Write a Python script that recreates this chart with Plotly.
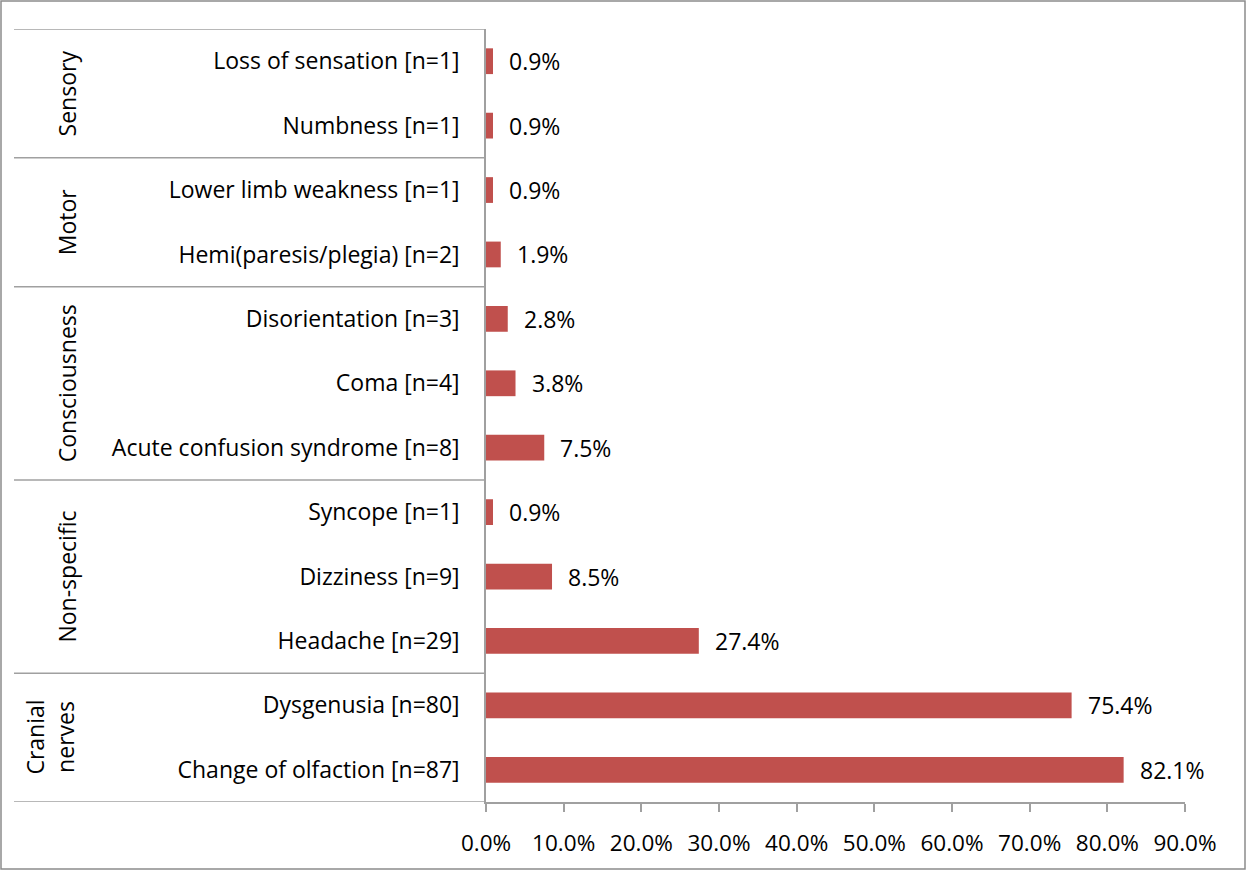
import plotly.graph_objects as go

# Data (bottom to top)
categories = [
    "Change of olfaction [n=87]",
    "Dysgenusia [n=80]",
    "Headache [n=29]",
    "Dizziness [n=9]",
    "Syncope [n=1]",
    "Acute confusion syndrome [n=8]",
    "Coma [n=4]",
    "Disorientation [n=3]",
    "Hemi(paresis/plegia) [n=2]",
    "Lower limb weakness [n=1]",
    "Numbness [n=1]",
    "Loss of sensation [n=1]",
]
values = [82.1, 75.4, 27.4, 8.5, 0.9, 7.5, 3.8, 2.8, 1.9, 0.9, 0.9, 0.9]
value_labels = ["82.1%", "75.4%", "27.4%", "8.5%", "0.9%", "7.5%", "3.8%", "2.8%", "1.9%", "0.9%", "0.9%", "0.9%"]

group_names = ["Cranial<br>nerves", "Non-specific", "Consciousness", "Motor", "Sensory"]
group_start = [0, 2, 5, 8, 10]
group_end = [1, 4, 7, 9, 11]

x_ticks = [0, 10, 20, 30, 40, 50, 60, 70, 80, 90]
x_tick_labels = ["0.0%", "10.0%", "20.0%", "30.0%", "40.0%", "50.0%", "60.0%", "70.0%", "80.0%", "90.0%"]

FONT = "Open Sans"
FS = 23
BAR_COLOR = "#C0504D"
LINE_COLOR = "#A0A0A0"

L, R, T, B = 486, 62, 29, 69
W, H = 1247, 871
PW = W - L - R
PH = H - T - B


def px_to_paper_x(px):
    return (px - L) / PW


def py_to_paper_y(py):
    return (H - B - py) / PH


fig = go.Figure()
fig.add_trace(go.Bar(
    x=values,
    y=list(range(len(categories))),
    orientation="h",
    marker=dict(color=BAR_COLOR, line=dict(width=0)),
    width=0.4,
    hoverinfo="skip",
))

annotations = []
for i, (v, lab) in enumerate(zip(values, value_labels)):
    annotations.append(dict(
        x=v, y=i, xref="x", yref="y", text=lab, showarrow=False,
        xanchor="left", yanchor="middle", xshift=14,
        font=dict(family=FONT, size=FS, color="#000000"),
    ))

for name, s, e in zip(group_names, group_start, group_end):
    cx = 50 if "<br>" in name else 67
    annotations.append(dict(
        x=px_to_paper_x(cx), y=(s + e) / 2, xref="paper", yref="y",
        text=name, showarrow=False, textangle=-90,
        xanchor="center", yanchor="middle",
        font=dict(family=FONT, size=FS, color="#000000"),
    ))

shapes = []
boundaries = [group_start[0] - 0.5] + [e + 0.5 for e in group_end]
for b in boundaries:
    shapes.append(dict(
        type="line", xref="paper", yref="y",
        x0=px_to_paper_x(14), x1=0, y0=b, y1=b,
        line=dict(color=LINE_COLOR, width=1.5),
    ))
# outer chart border
shapes.append(dict(
    type="rect", xref="paper", yref="paper",
    x0=px_to_paper_x(1), x1=px_to_paper_x(W - 2),
    y0=py_to_paper_y(H - 2), y1=py_to_paper_y(1),
    line=dict(color="#8C8C8C", width=1.5),
))

fig.update_layout(
    width=W, height=H, autosize=False,
    margin=dict(l=L, r=R, t=T, b=B, pad=0),
    paper_bgcolor="white", plot_bgcolor="white",
    showlegend=False,
    font=dict(family=FONT, size=FS, color="#000000"),
    annotations=annotations,
    shapes=shapes,
    bargap=0.6,
)
fig.update_xaxes(
    range=[0, 90],
    tickvals=x_ticks, ticktext=x_tick_labels,
    showgrid=False, zeroline=False,
    showline=True, linecolor=LINE_COLOR, linewidth=1.5,
    ticks="outside", ticklen=8, tickcolor=LINE_COLOR, tickwidth=1.5,
    tickfont=dict(family=FONT, size=22.5, color="#000000"),
    ticklabelstandoff=12,
)
fig.update_yaxes(
    range=[-0.5, 11.5],
    tickvals=list(range(len(categories))), ticktext=categories,
    showgrid=False, zeroline=False,
    showline=True, linecolor=LINE_COLOR, linewidth=1.5,
    ticks="", ticklabelstandoff=20,
    tickfont=dict(family=FONT, size=FS, color="#000000"),
)

fig.write_html("out.html", config={"displayModeBar": False},
               post_script="document.body.style.margin='0';")
